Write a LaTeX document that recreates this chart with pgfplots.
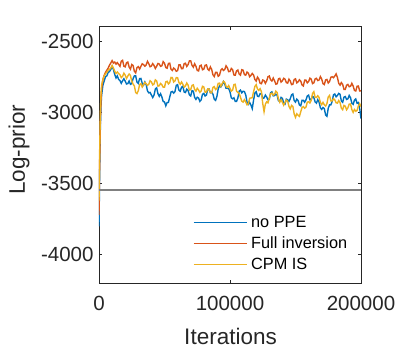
\documentclass[border=0pt]{standalone}
\usepackage{fontspec}
\setmainfont{Liberation Sans}
\usepackage{xcolor}
\usepackage{pgfplots}
\usepackage{pgfplotstable}
\pgfplotsset{compat=1.18}

\definecolor{lineA}{rgb}{0,0.447,0.741}
\definecolor{lineB}{rgb}{0.85,0.325,0.098}
\definecolor{lineC}{rgb}{0.929,0.694,0.125}
\definecolor{axisgrey}{rgb}{0.15,0.15,0.15}
\definecolor{refgrey}{rgb}{0.5,0.5,0.5}

% it, no PPE, Full inversion, CPM IS
\pgfplotstableread{
it blue orange yellow
0 -3800 -3720 -3620
500 -3420 -3350 -3280
1000 -3120 -3080 -3020
1500 -2960 -2920 -2880
2000 -2880 -2830 -2810
3000 -2810 -2770 -2770
4000 -2780 -2740 -2745
5000 -2750 -2720 -2730
6000 -2745 -2705 -2720
7000 -2720 -2690 -2705
8000 -2715 -2670 -2700
9000 -2700 -2655 -2690
10000 -2680 -2638 -2672
11000 -2700 -2655 -2690
12000 -2735 -2648 -2712
13000 -2760 -2662 -2728
14000 -2745 -2652 -2718
15000 -2770 -2665 -2728
16000 -2778 -2678 -2737
17000 -2797 -2642 -2757
18000 -2780 -2636 -2748
19000 -2765 -2677 -2726
20000 -2782 -2682 -2740
21000 -2802 -2653 -2763
22000 -2799 -2648 -2746
23000 -2781 -2683 -2732
24000 -2804 -2698 -2742
25000 -2799 -2665 -2782
26000 -2765 -2672 -2802
27000 -2745 -2712 -2816
28000 -2745 -2724 -2862
29000 -2789 -2687 -2869
30000 -2798 -2680 -2849
31000 -2764 -2697 -2806
32000 -2763 -2678 -2800
33000 -2798 -2660 -2823
34000 -2810 -2666 -2806
35000 -2788 -2677 -2791
36000 -2807 -2668 -2800
37000 -2850 -2643 -2812
38000 -2864 -2659 -2804
39000 -2861 -2681 -2779
40000 -2879 -2676 -2787
41000 -2897 -2659 -2808
42000 -2880 -2672 -2802
43000 -2838 -2693 -2773
44000 -2829 -2678 -2780
45000 -2870 -2658 -2817
46000 -2888 -2662 -2814
47000 -2870 -2678 -2798
48000 -2893 -2674 -2807
49000 -2925 -2645 -2825
50000 -2928 -2656 -2824
51000 -2955 -2687 -2787
52000 -2932 -2691 -2783
53000 -2931 -2658 -2801
54000 -2894 -2656 -2792
55000 -2858 -2699 -2756
56000 -2854 -2707 -2757
57000 -2866 -2690 -2788
58000 -2855 -2698 -2780
59000 -2811 -2713 -2757
60000 -2807 -2708 -2758
61000 -2845 -2668 -2791
62000 -2853 -2668 -2804
63000 -2825 -2695 -2788
64000 -2818 -2694 -2804
65000 -2858 -2660 -2824
66000 -2862 -2656 -2816
67000 -2838 -2679 -2795
68000 -2847 -2666 -2810
69000 -2878 -2640 -2845
70000 -2886 -2639 -2841
71000 -2849 -2671 -2812
72000 -2852 -2684 -2808
73000 -2896 -2660 -2840
74000 -2910 -2677 -2852
75000 -2895 -2707 -2832
76000 -2900 -2710 -2844
77000 -2924 -2675 -2861
78000 -2913 -2670 -2850
79000 -2874 -2702 -2818
80000 -2868 -2698 -2822
81000 -2886 -2671 -2860
82000 -2880 -2668 -2858
83000 -2838 -2697 -2836
84000 -2837 -2706 -2838
85000 -2863 -2682 -2861
86000 -2859 -2699 -2864
87000 -2874 -2738 -2826
88000 -2909 -2750 -2820
89000 -2917 -2720 -2841
90000 -2890 -2720 -2834
91000 -2836 -2748 -2797
92000 -2815 -2740 -2796
93000 -2823 -2705 -2818
94000 -2808 -2695 -2800
95000 -2785 -2707 -2783
96000 -2803 -2700 -2790
97000 -2832 -2674 -2818
98000 -2832 -2688 -2826
99000 -2834 -2715 -2813
100000 -2857 -2714 -2833
101000 -2899 -2693 -2852
102000 -2906 -2702 -2844
103000 -2899 -2739 -2806
104000 -2924 -2740 -2804
105000 -2924 -2710 -2853
106000 -2900 -2704 -2862
107000 -2852 -2732 -2867
108000 -2845 -2740 -2896
109000 -2864 -2702 -2922
110000 -2853 -2705 -2929
111000 -2855 -2736 -2912
112000 -2878 -2740 -2927
113000 -2929 -2718 -2948
114000 -2945 -2726 -2941
115000 -2931 -2751 -2902
116000 -2950 -2741 -2900
117000 -2975 -2728 -2898
118000 -2914 -2739 -2856
119000 -2865 -2770 -2819
120000 -2856 -2782 -2807
121000 -2888 -2754 -2837
122000 -2890 -2767 -2847
123000 -2870 -2797 -2835
124000 -2870 -2800 -2856
125000 -2903 -2774 -2940
126000 -2900 -2778 -2996
127000 -2880 -2797 -2943
128000 -2893 -2780 -2927
129000 -2913 -2751 -2934
130000 -2910 -2746 -2901
131000 -2863 -2773 -2871
132000 -2857 -2781 -2866
133000 -2885 -2760 -2880
134000 -2884 -2779 -2874
135000 -2873 -2803 -2852
136000 -2882 -2800 -2862
137000 -2920 -2766 -2910
138000 -2922 -2762 -2930
139000 -2896 -2789 -2912
140000 -2903 -2780 -2931
141000 -2935 -2762 -2951
142000 -2943 -2768 -2932
143000 -2908 -2792 -2915
144000 -2913 -2796 -2922
145000 -2924 -2768 -2959
146000 -2905 -2781 -2976
147000 -2878 -2806 -2952
148000 -2872 -2804 -2960
149000 -2918 -2770 -3012
150000 -2929 -2766 -3036
151000 -2908 -2794 -3011
152000 -2919 -2787 -3022
153000 -2949 -2772 -3029
154000 -2955 -2782 -2997
155000 -2916 -2809 -2967
156000 -2917 -2816 -2961
157000 -2930 -2775 -2972
158000 -2913 -2775 -2964
159000 -2886 -2794 -2929
160000 -2880 -2785 -2927
161000 -2913 -2761 -2935
162000 -2910 -2768 -2916
163000 -2887 -2799 -2868
164000 -2897 -2794 -2856
165000 -2928 -2766 -2896
166000 -2936 -2762 -2896
167000 -2912 -2778 -2884
168000 -2929 -2774 -2897
169000 -2969 -2750 -2932
170000 -2980 -2767 -2947
171000 -2967 -2800 -2931
172000 -2975 -2806 -2948
173000 -3019 -2773 -2957
174000 -3028 -2770 -2939
175000 -2972 -2795 -2892
176000 -2948 -2784 -2882
177000 -2948 -2755 -2921
178000 -2925 -2751 -2921
179000 -2878 -2758 -2905
180000 -2872 -2746 -2913
181000 -2892 -2731 -2934
182000 -2882 -2756 -2936
183000 -2868 -2797 -2918
184000 -2874 -2810 -2932
185000 -2920 -2792 -2971
186000 -2930 -2804 -2982
187000 -2894 -2840 -2952
188000 -2890 -2840 -2958
189000 -2910 -2810 -2983
190000 -2906 -2805 -2969
191000 -2882 -2821 -2943
192000 -2898 -2818 -2942
193000 -2936 -2797 -2981
194000 -2945 -2816 -3001
195000 -2916 -2847 -2981
196000 -2907 -2851 -2993
197000 -2937 -2818 -2988
198000 -2932 -2816 -2956
199000 -2972 -2851 -2940
200000 -3045 -2850 -2960
}\logprior

\pgfplotstableread{
it y
0 -3545
200000 -3545
}\reference

\begin{document}
\begin{tikzpicture}
\path[use as bounding box] (-99pt,-66.7pt) rectangle (301pt,283.3pt);
\begin{axis}[
    scale only axis,
    width=262pt,
    height=256.6pt,
    xmin=0, xmax=200000,
    ymin=-4200, ymax=-2400,
    scaled x ticks=false,
    scaled y ticks=false,
    xtick={0,100000,200000},
    xticklabels={0,100000,200000},
    ytick={-4000,-3500,-3000,-2500},
    yticklabels={-4000,-3500,-3000,-2500},
    tick align=inside,
    major tick length=3pt,
    axis line style={axisgrey, line width=0.6pt},
    every tick/.style={axisgrey, line width=0.6pt},
    tick label style={font=\fontsize{20.5}{24}\selectfont, text=axisgrey},
    xticklabel style={yshift=-9pt},
    yticklabel style={xshift=-2pt},
    xlabel={Iterations},
    ylabel={Log-prior},
    label style={font=\fontsize{22.5}{26}\selectfont, text=axisgrey},
    xlabel style={at={(axis description cs:0.502,-0.208)}, anchor=center},
    ylabel style={at={(axis description cs:-0.305,0.52)}, anchor=center},
    legend cell align=left,
    legend image code/.code={\draw[#1] (0pt,0pt) -- (53.5pt,0pt);},
    legend style={draw=none, fill=none, inner sep=0pt,
        at={(axis description cs:0.359,0.266)}, anchor=north west,
        font=\fontsize{16.3}{19}\selectfont, text=black,
        nodes={inner sep=1pt, text height=11.5pt, text depth=0pt},
        row sep=7.5pt, column sep=2.5pt},
]
\addlegendimage{draw=lineA, line width=0.9pt}
\addlegendentry{no PPE}
\addlegendimage{draw=lineB, line width=0.9pt}
\addlegendentry{Full inversion}
\addlegendimage{draw=lineC, line width=0.9pt}
\addlegendentry{CPM IS}
\addplot[lineA, line width=1.4pt, forget plot] table[x=it, y=blue] {\logprior};
\addplot[lineB, line width=1.4pt, forget plot] table[x=it, y=orange] {\logprior};
\addplot[lineC, line width=1.4pt, forget plot] table[x=it, y=yellow] {\logprior};
\addplot[refgrey, line width=2pt, forget plot] table[x=it, y=y] {\reference};
\end{axis}
\end{tikzpicture}
\end{document}
